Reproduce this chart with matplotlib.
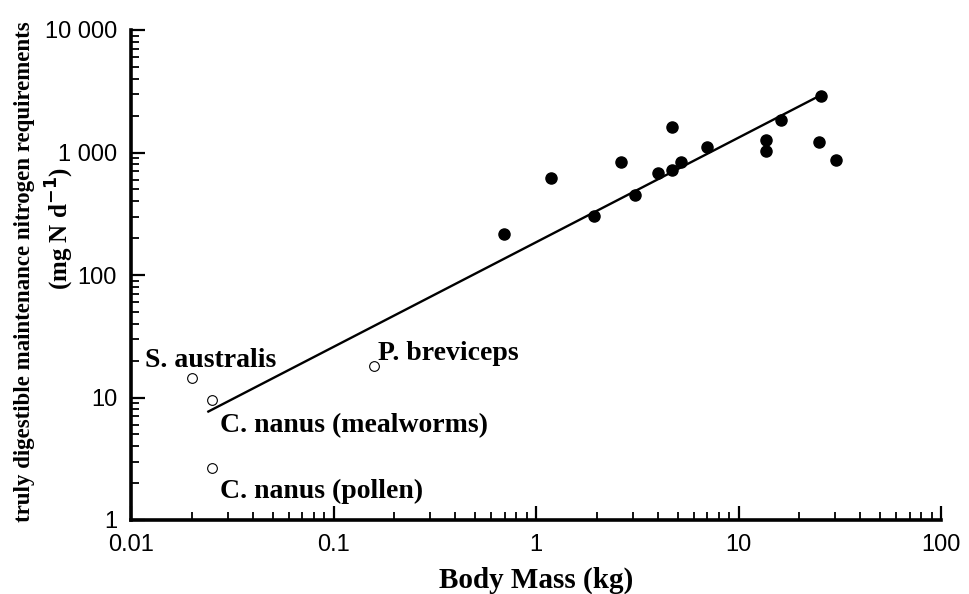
import matplotlib.pyplot as plt
from matplotlib.ticker import FixedLocator, LogLocator, NullFormatter
import numpy as np

# masse corporelle (kg) et besoins azotés (mg N / jour)
masse_pleins = [0.695, 1.18, 1.94, 2.62, 3.08, 4.02, 4.68, 4.71, 5.20, 6.97,
                13.7, 13.7, 16.2, 25.5, 24.9, 30.2]
azote_pleins = [216, 620, 303, 832, 450, 684, 1625, 719, 841, 1115,
                1265, 1029, 1842, 2910, 1225, 868]

noms_vides = ["S. australis", "C. nanus (mealworms)", "C. nanus (pollen)", "P. breviceps"]
masse_vides = [0.0201, 0.025, 0.025, 0.158]
azote_vides = [14.4, 9.5, 2.64, 18.2]

# droite de régression  y = a * x^b
coef_a = 185
coef_b = 0.854
masse_droite = [0.0241, 25.2]

xticks = [0.01, 0.1, 1, 10, 100]
xlabels = ["0.01", "0.1", "1", "10", "100"]
yticks = [1, 10, 100, 1000, 10000]
ylabels = ["1", "10", "100", "1 000", "10 000"]

fig = plt.figure(figsize=(9.69, 5.94), dpi=100)
ax = fig.add_axes([131 / 969, 1 - 520 / 594, 810 / 969, 490 / 594])

xs = np.array(masse_droite)
ax.plot(xs, coef_a * xs ** coef_b, color="black", lw=1.7, zorder=2)
ax.plot(masse_pleins, azote_pleins, "o", color="black", ms=8, zorder=3)
ax.plot(masse_vides, azote_vides, "o", mfc="white", mec="black", mew=0.8, ms=7, zorder=3)

# position des étiquettes (pixels) par rapport au point
decalages = [(-47, 11), (8, -32), (8, -30), (4, 6)]
for nom, x, y, d in zip(noms_vides, masse_vides, azote_vides, decalages):
    ax.annotate(nom, (x, y), xytext=d, textcoords="offset pixels",
                ha="left", va="baseline", fontsize=20, fontweight="bold",
                family="Liberation Serif")

ax.set_xscale("log")
ax.set_yscale("log")
ax.set_xlim(0.01, 100)
ax.set_ylim(1, 10000)

ax.xaxis.set_major_locator(FixedLocator(xticks))
ax.set_xticklabels(xlabels)
ax.yaxis.set_major_locator(FixedLocator(yticks))
ax.set_yticklabels(ylabels)
for axe in (ax.xaxis, ax.yaxis):
    axe.set_minor_locator(LogLocator(base=10, subs=np.arange(2, 10)))
    axe.set_minor_formatter(NullFormatter())

ax.tick_params(which="major", direction="in", length=10, width=1.6,
               labelsize=17, pad=10)
ax.tick_params(which="minor", direction="in", length=6, width=1.3)
for lab in ax.get_xticklabels() + ax.get_yticklabels():
    lab.set_family("Liberation Sans")

for cote in ["top", "right"]:
    ax.spines[cote].set_visible(False)
for cote in ["left", "bottom"]:
    ax.spines[cote].set_linewidth(2.6)

ax.set_xlabel("Body Mass (kg)", fontsize=21, fontweight="bold",
              family="Liberation Serif", labelpad=8)

fig.text(25 / 969, 1 - 272 / 594, "truly digestible maintenance nitrogen requirements",
         rotation=90, ha="center", va="center", fontsize=16.5, fontweight="bold",
         family="Liberation Serif")
fig.text(60 / 969, 1 - 228 / 594, r"(mg N d$^{\mathbf{-1}}$)",
         rotation=90, ha="center", va="center", fontsize=18, fontweight="bold",
         family="Liberation Serif")

fig.savefig("out.png", dpi=100)
